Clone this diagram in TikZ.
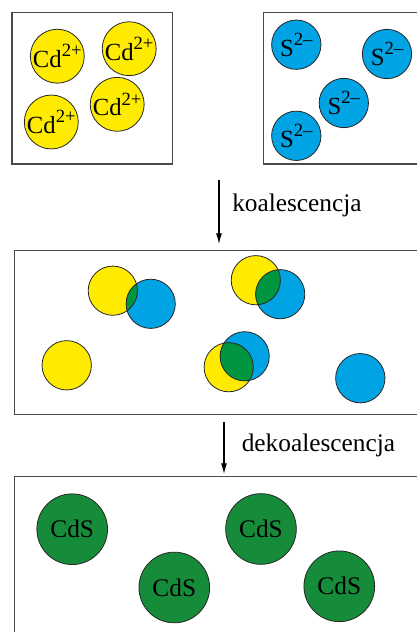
\documentclass[tikz,border=0pt]{standalone}
\usepackage{fontspec}
\setmainfont{Liberation Serif}
\usetikzlibrary{arrows.meta}
\definecolor{cdyel}{HTML}{FFEB00}
\definecolor{sblue}{HTML}{00A3E4}
\definecolor{mixgreen}{HTML}{00953F}
\definecolor{cdsgreen}{HTML}{168C3B}
\definecolor{boxgray}{HTML}{4A4A4A}
\tikzset{
  panel/.style={draw=boxgray, line width=0.95pt},
  ion/.style={circle, draw=black!85, line width=0.6pt, minimum size=37pt, inner sep=0pt, font=\fontsize{18.5}{18.5}\selectfont},
  cd/.style={ion, fill=cdyel},
  su/.style={ion, fill=sblue},
  cds/.style={circle, draw=black!85, line width=0.6pt, fill=cdsgreen, minimum size=53pt, inner sep=0pt, font=\fontsize{19}{19}\selectfont},
  flow/.style={draw=black, line width=0.8pt, -{Latex[length=8pt,width=4.5pt]}},
  lab/.style={anchor=west, font=\fontsize{19}{19}\selectfont, inner sep=0pt}
}
\newcommand{\cdion}{Cd\raisebox{8pt}{\fontsize{14}{14}\selectfont 2+}}
\newcommand{\sion}{S\raisebox{8pt}{\fontsize{14}{14}\selectfont 2–}}
\begin{document}
\begin{tikzpicture}[x=0.75pt,y=-0.75pt]
\clip (0,0) rectangle (417,632);
\fill[white] (0,0) rectangle (417,632);
% panels
\draw[panel] (12,12.7) rectangle (172.7,164);
\draw[panel] (263.3,12.7) rectangle (440,164);
\draw[panel] (14.7,250.7) rectangle (440,414.7);
\draw[panel] (14.7,476.7) rectangle (440,660);
% Cd ions
\node[cd] (c1) at (57.3,56.2) {\cdion};
\node[cd] (c2) at (129.2,48.7) {\cdion};
\node[cd] (c3) at (51.3,122) {\cdion};
\node[cd] (c4) at (117.2,104.3) {\cdion};
% S ions
\node[su] (s1) at (296.3,44.7) {\sion};
\node[su] (s2) at (387,54) {\sion};
\node[su] (s3) at (343.8,103) {\sion};
\node[su] (s4) at (296.3,135.8) {\sion};
% arrow 1
\coordinate (a1s) at (219,180);
\coordinate (a1e) at (219,244);
\draw[flow] (a1s) -- (a1e);
\node[lab] (k) at (232,205) {koalescencja};
% middle panel: single particles
\node[cd] (y3) at (66.7,365.3) {};
\node[su] (b4) at (360.3,378.2) {};
% overlapping pairs
\newcommand{\pair}[2]{%
  \fill[cdyel] (#1) circle[radius=24.6];
  \fill[sblue] (#2) circle[radius=24.6];
  \begin{scope}
    \clip (#1) circle[radius=24.6];
    \fill[mixgreen] (#2) circle[radius=24.6];
  \end{scope}
  \draw[black!85, line width=0.6pt] (#1) circle[radius=24.6];
  \draw[black!85, line width=0.6pt] (#2) circle[radius=24.6];
}
\coordinate (y1) at (112.8,290.7);
\coordinate (b1) at (150.7,303.8);
\pair{y1}{b1}
\coordinate (y2) at (255.8,280.2);
\coordinate (b2) at (280.2,294.2);
\pair{y2}{b2}
\coordinate (b3) at (244.7,356.3);
\coordinate (y4) at (228.7,367.2);
\pair{y4}{b3}
% arrow 2
\coordinate (a2s) at (224,422);
\coordinate (a2e) at (224,474);
\draw[flow] (a2s) -- (a2e);
\node[lab] (d) at (241.5,445) {dekoalescencja};
% CdS
\node[cds] (g1) at (72.2,529.2) {CdS};
\node[cds] (g2) at (261,529) {CdS};
\node[cds] (g3) at (174.3,587.5) {CdS};
\node[cds] (g4) at (339.3,586.3) {CdS};
\end{tikzpicture}
\end{document}
